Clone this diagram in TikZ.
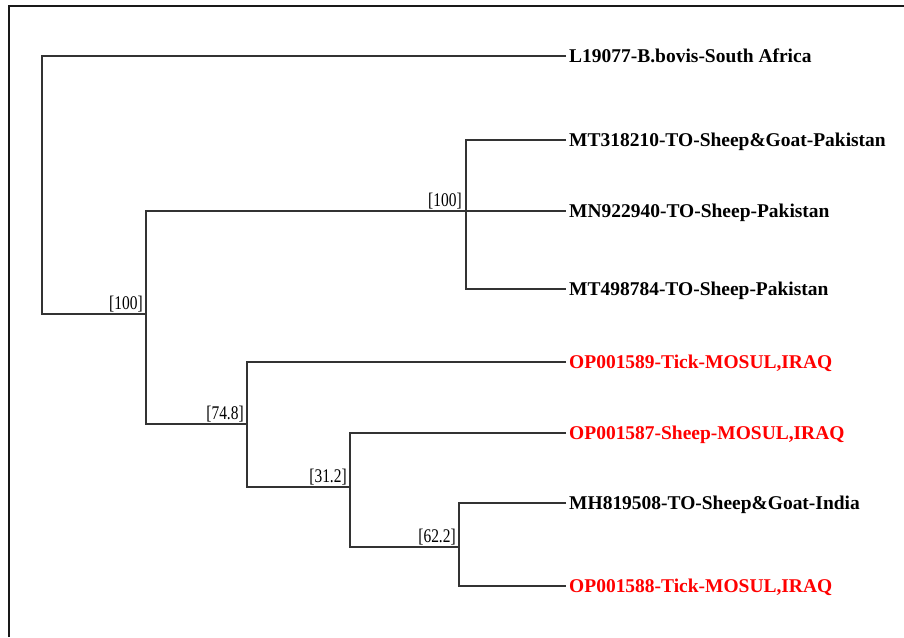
\documentclass[tikz,border=0pt]{standalone}
\usepackage{graphicx}
\usepackage{fontspec}
\setmainfont{Liberation Serif}
\definecolor{leafred}{RGB}{255,0,0}
\begin{document}
\begin{tikzpicture}[x=0.75pt,y=-0.75pt,
  branch/.style={draw=black!80,line width=1.1pt},
  leaf/.style={anchor=west,inner sep=0pt,outer sep=0pt,text height=9.7pt,text depth=0pt,font=\bfseries\fontsize{14.6}{16}\selectfont},
  redleaf/.style={leaf,text=leafred},
  boot/.style={anchor=south east,inner sep=0pt,font=\fontsize{14.5}{16}\selectfont}]
\useasboundingbox (0,0) rectangle (904,637);
\draw[line width=1.5pt,black!90] (9,637) -- (9,6) -- (904,6);

% internal nodes
\coordinate (root) at (42,314);
\coordinate (n1) at (146,314);
\coordinate (n2) at (466,211);
\coordinate (n3) at (247,424);
\coordinate (n4) at (350,487);
\coordinate (n5) at (459,547);

% leaves
\node[leaf] (l1) at (566,56) {\,L19077-B.bovis-South Africa};
\node[leaf] (l2) at (566,140) {\,MT318210-TO-Sheep\&Goat-Pakistan};
\node[leaf] (l3) at (566,211) {\,MN922940-TO-Sheep-Pakistan};
\node[leaf] (l4) at (566,289) {\,MT498784-TO-Sheep-Pakistan};
\node[redleaf] (l5) at (566,362) {\,OP001589-Tick-MOSUL,IRAQ};
\node[redleaf] (l6) at (566,433) {\,OP001587-Sheep-MOSUL,IRAQ};
\node[leaf] (l7) at (566,503) {\,MH819508-TO-Sheep\&Goat-India};
\node[redleaf] (l8) at (566,586) {\,OP001588-Tick-MOSUL,IRAQ};

% branches
\draw[branch] (l1.west) -| (root) -- (n1);
\draw[branch] (n2) -| (n1) |- (n3);
\draw[branch] (l2.west) -| (n2) |- (l4.west);
\draw[branch] (n2) -- (l3.west);
\draw[branch] (l5.west) -| (n3) |- (n4);
\draw[branch] (l6.west) -| (n4) |- (n5);
\draw[branch] (l7.west) -| (n5) |- (l8.west);

% bootstrap values
\node[boot] (b1) at (143,312) {\scalebox{0.8}[1]{[100]}};
\node[boot] (b2) at (462,209) {\scalebox{0.8}[1]{[100]}};
\node[boot] (b3) at (244,422) {\scalebox{0.8}[1]{[74.8]}};
\node[boot] (b4) at (347,485) {\scalebox{0.8}[1]{[31.2]}};
\node[boot] (b5) at (456,545) {\scalebox{0.8}[1]{[62.2]}};
\end{tikzpicture}
\end{document}
